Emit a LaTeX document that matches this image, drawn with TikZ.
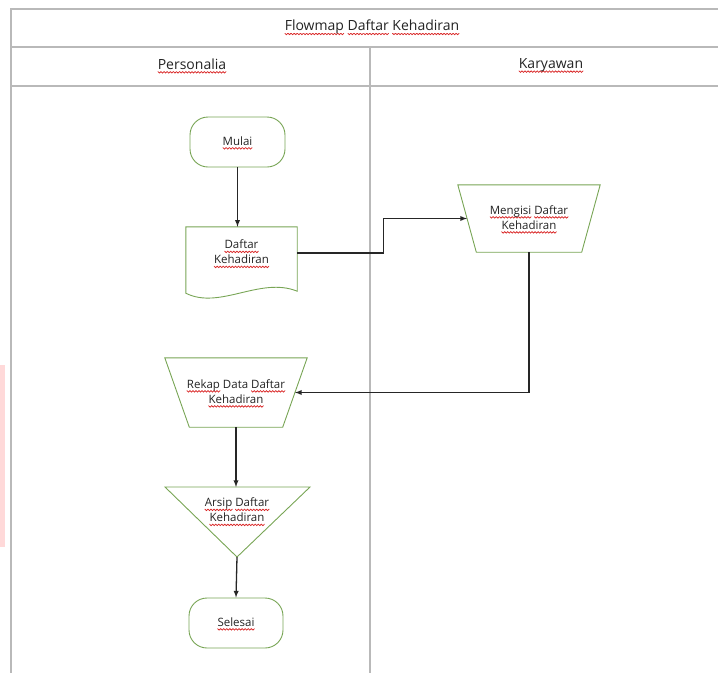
\documentclass[tikz,border=0pt]{standalone}
\usepackage{fontspec}
\setmainfont{Open Sans}
\usepackage{xcolor}
\usepackage{tikz}
\usetikzlibrary{calc}

\definecolor{shapegreen}{RGB}{120,165,85}
\definecolor{tablegrey}{RGB}{185,185,185}
\definecolor{textgrey}{RGB}{35,35,35}

% garis bergelombang merah di bawah kata
\newcommand{\wavebit}{\hbox to 3pt{\special{pdf:content q 0.85 0.15 0.15 RG 0.75 w 1 J 0 0 m 1.5 -1.4 l 3 0 l S Q}\hfil}}
\newcommand{\sq}[1]{\setbox0=\hbox{#1}\leavevmode\rlap{\lower2.6pt\hbox to\wd0{\xleaders\wavebit\hfil}}\box0\relax}

\tikzset{
	flowtext/.style={text=textgrey, font=\fontsize{11.5}{15}\selectfont, align=center},
	headtext/.style={text=textgrey, font=\fontsize{14}{17}\selectfont},
	terminal/.style={flowtext, rectangle, rounded corners=18pt, draw=shapegreen, line width=0.9pt, minimum width=95pt, minimum height=50pt},
	shapeline/.style={draw=shapegreen, line width=0.9pt},
	flowline/.style={draw=black!85, line width=1.3pt}
}

\begin{document}
\begin{tikzpicture}[>=latex, x=1pt, y=-1pt]
		\useasboundingbox (0,0) rectangle (718,673);
		\fill[red!15] (0,365) rectangle (5,547);

		%Tabel
		\draw[tablegrey, line width=1.2pt] (718,9) -- (11,9) -- (11,673);
		\draw[tablegrey, line width=1.2pt] (11,47) -- (718,47);
		\draw[tablegrey, line width=1.2pt] (11,86) -- (718,86);
		\draw[tablegrey, line width=1.2pt] (370,47) -- (370,673);
		\node at (372,27) (judul) [headtext] {\sq{Flowmap} \sq{Daftar} \sq{Kehadiran}};
		\node at (192,65) (personalia) [headtext] {\sq{Personalia}};
		\node at (551,65) (karyawan) [headtext] {\sq{Karyawan}};

		% Personalia
		\node at (237.5,142) (mulai) [terminal] {\sq{Mulai}};
		\node at (241.5,253) (daftar) [flowtext, minimum width=111pt, minimum height=52pt] {\sq{Daftar}\\\sq{Kehadiran}};
		\draw[shapeline] (daftar.north west) -- (daftar.north east) -- ($(daftar.south east)+(0,12)$)
			.. controls +(-37,-15) and +(34,17) .. ($(daftar.south west)+(0,14)$) -- cycle;
		\node at (236,392.5) (rekap) [flowtext, minimum width=142pt, minimum height=69pt] {\sq{Rekap} Data \sq{Daftar}\\\sq{Kehadiran}};
		\draw[shapeline] (rekap.north west) -- (rekap.north east) -- ($(rekap.south east)+(-24.5,0)$) -- ($(rekap.south west)+(24.5,0)$) -- cycle;
		\coordinate (rekap-kanan) at ($(rekap.east)+(-12.25,0)$);
		\coordinate (arsip-kiri) at (165,487);
		\coordinate (arsip-kanan) at (310,487);
		\coordinate (arsip-bawah) at (237,557);
		\draw[shapeline] (arsip-kiri) -- (arsip-kanan) -- (arsip-bawah) -- cycle;
		\node at (237,511) (arsip) [flowtext] {\sq{Arsip} \sq{Daftar}\\\sq{Kehadiran}};
		\node at (236,623) (selesai) [terminal, minimum width=94pt] {\sq{Selesai}};

		% Karyawan
		\node at (529,218.5) (mengisi) [flowtext, minimum width=142pt, minimum height=67pt] {\sq{Mengisi} \sq{Daftar}\\\sq{Kehadiran}};
		\draw[shapeline] (mengisi.north west) -- (mengisi.north east) -- ($(mengisi.south east)+(-18.5,0)$) -- ($(mengisi.south west)+(18.5,0)$) -- cycle;
		\coordinate (mengisi-kiri) at ($(mengisi.west)+(9.25,0)$);

		% Alur
		\draw[flowline, ->] (mulai.south) -- (mulai.south |- daftar.north);
		\draw[flowline, ->] (daftar.east) -- ++(86,0) |- (mengisi-kiri);
		\draw[flowline, ->] (mengisi.south) |- (rekap-kanan);
		\draw[flowline, ->] (rekap.south) -- (rekap.south |- arsip-kiri);
		\draw[flowline, ->] (arsip-bawah) -- (selesai.north);
	\end{tikzpicture}
\end{document}
